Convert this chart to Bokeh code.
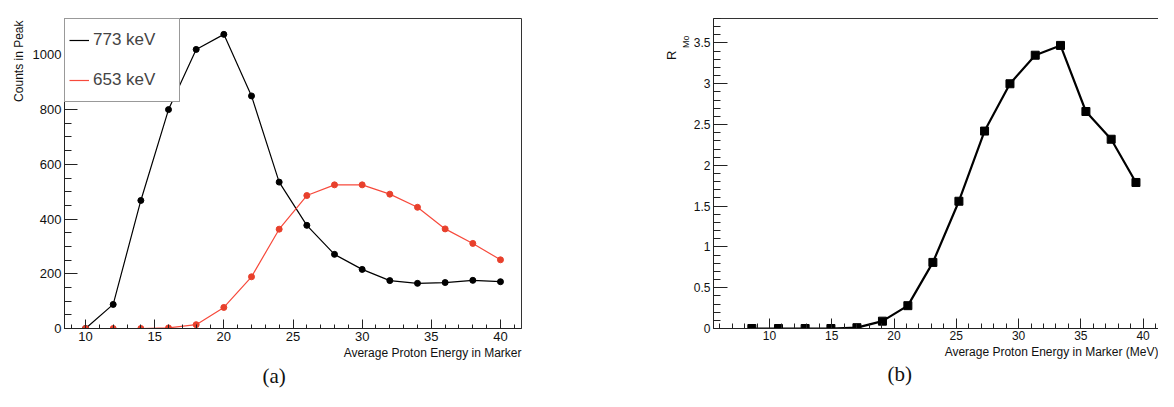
import math
from bokeh.plotting import figure
from bokeh.layouts import row
from bokeh.models import Range1d, SingleIntervalTicker, LinearAxis, FixedTicker, Title
from bokeh.embed import file_html
from bokeh.resources import INLINE

# ---- data, panel (a) ----
energy_a = [10, 12, 14, 16, 18, 20, 22, 24, 26, 28, 30, 32, 34, 36, 38, 40]
counts_773 = [0, 88, 468, 800, 1020, 1075, 850, 535, 377, 271, 216, 175, 165, 168, 176, 171]
counts_653 = [0, 0, 0, 2, 14, 77, 189, 363, 486, 525, 525, 491, 443, 364, 311, 251]
series_names = ["773 keV", "653 keV"]

# ---- data, panel (b) ----
energy_b = [8.58, 10.72, 12.86, 14.93, 17.02, 19.07, 21.11, 23.12, 25.21, 27.27,
            29.31, 31.34, 33.37, 35.41, 37.44, 39.43]
r_mo = [0, 0, 0, 0, 0.01, 0.09, 0.28, 0.81, 1.56, 2.42, 3.00, 3.35, 3.47, 2.66, 2.32, 1.79]
ylabels_b = {0: "0", 0.5: "0.5", 1: "1", 1.5: "1.5", 2: "2", 2.5: "2.5", 3: "3", 3.5: "3.5"}

FONT = "Liberation Sans"
RED_LINE = "#f74a3c"
RED_MARK = "#e8402c"


def style_axis(ax, tick_size):
    ax.major_tick_out = 0
    ax.minor_tick_out = 0
    ax.axis_line_color = "#222222"
    ax.major_tick_line_color = "#222222"
    ax.minor_tick_line_color = "#222222"
    ax.major_label_text_font = FONT
    ax.major_label_text_font_size = tick_size
    ax.major_label_text_color = "#111111"


def ttl(text, align, offset, standoff, size="12px", font=FONT):
    return Title(text=text, align=align, offset=offset, standoff=standoff,
                 text_font=font, text_font_size=size, text_font_style="normal",
                 text_color="#111111")


# ================= panel (a) =================
p1 = figure(width=600, height=391, x_range=Range1d(8.48, 41.52), y_range=Range1d(0, 1133),
            output_backend="svg", toolbar_location=None,
            min_border_left=64, min_border_right=79, min_border_top=11, min_border_bottom=63)
p1.grid.visible = False
p1.outline_line_color = "#333333"
p1.outline_line_width = 1

p1.xaxis.ticker = SingleIntervalTicker(interval=5, num_minor_ticks=5)
p1.yaxis.ticker = SingleIntervalTicker(interval=200, num_minor_ticks=4)
style_axis(p1.xaxis[0], "13px")
style_axis(p1.yaxis[0], "13px")
p1.xaxis.major_tick_in = 9
p1.xaxis.minor_tick_in = 4
p1.yaxis.major_tick_in = 13
p1.yaxis.minor_tick_in = 7
p1.xaxis.major_label_standoff = 3
p1.yaxis.major_label_standoff = 3

p1.line(energy_a, counts_773, color="black", line_width=1.2, legend_label=series_names[0])
p1.scatter(energy_a, counts_773, color="black", size=6)
p1.line(energy_a, counts_653, color=RED_LINE, line_width=1.2, legend_label=series_names[1])
p1.scatter(energy_a, counts_653, color=RED_MARK, size=6)

lg = p1.legend[0]
lg.location = "top_left"
lg.margin = 0
lg.padding = 4
lg.spacing = 6
lg.glyph_width = 20
lg.glyph_height = 34
lg.label_height = 34
lg.label_width = 82
lg.label_standoff = 4
lg.label_text_font = FONT
lg.label_text_font_size = "17px"
lg.border_line_color = "#333333"
lg.border_line_width = 1
lg.background_fill_alpha = 1

p1.add_layout(ttl("Average Proton Energy in Marker", "right", 0, 0), "below")
p1.add_layout(ttl("(a)", "left", 198, 5, size="21px", font="Liberation Serif"), "below")
p1.add_layout(ttl("Counts in Peak", "right", 2, 8), "left")

# ================= panel (b) =================
p2 = figure(width=558, height=391, x_range=Range1d(5.5, 41.24), y_range=Range1d(0, 3.8),
            output_backend="svg", toolbar_location=None,
            min_border_left=113, min_border_right=0, min_border_top=18, min_border_bottom=59)
p2.grid.visible = False
p2.outline_line_color = None
top_ax = LinearAxis(ticker=FixedTicker(ticks=[]), axis_line_color="#333333",
                    major_tick_line_color=None, minor_tick_line_color=None,
                    major_label_standoff=0)
p2.add_layout(top_ax, "above")

p2.below[0].ticker = SingleIntervalTicker(interval=5, num_minor_ticks=5)
p2.left[0].ticker = SingleIntervalTicker(interval=0.5, num_minor_ticks=5)
p2.left[0].major_label_overrides = ylabels_b
style_axis(p2.below[0], "12px")
style_axis(p2.left[0], "12px")
p2.below[0].major_tick_in = 10
p2.below[0].minor_tick_in = 5
p2.left[0].major_tick_in = 14
p2.left[0].minor_tick_in = 7
p2.below[0].major_label_standoff = 2
p2.left[0].major_label_standoff = 3

p2.line(energy_b, r_mo, color="black", line_width=2.2)
p2.scatter(energy_b, r_mo, marker="square", color="black", size=8)

p2.add_layout(ttl("Average Proton Energy in Marker (MeV)", "right", 0, 0), "below")
p2.add_layout(ttl("(b)", "left", 174, 3, size="21px", font="Liberation Serif"), "below")
p2.add_layout(ttl("Mo", "right", 17, 0, size="9px"), "left")
p2.add_layout(ttl("R", "right", 32, 0, size="13px"), "left")

layout = row(p1, p2)
open("out.html", "w").write(file_html(layout, INLINE))
